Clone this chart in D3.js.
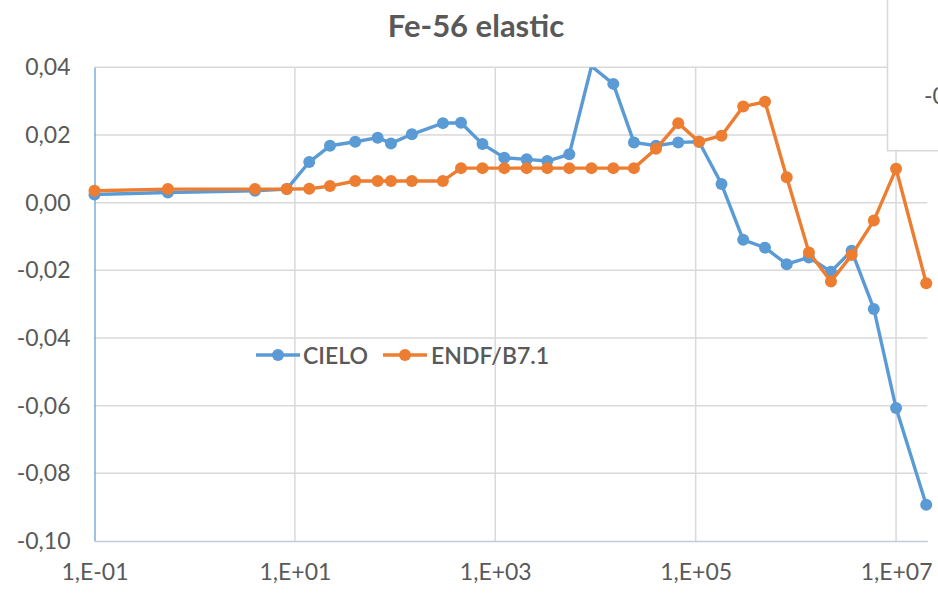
<!DOCTYPE html>
<html>
<head>
<meta charset="utf-8">
<script src="https://cdn.jsdelivr.net/npm/d3@7"></script>
<style>
  html, body { margin: 0; padding: 0; background: #fff; }
  svg { display: block; }
  text { font-family: Lato, "Open Sans", "Liberation Sans", sans-serif; fill: #595959; }
</style>
</head>
<body>
<svg id="chart" width="938" height="594"></svg>
<script>
// Incident energy (eV) for each evaluated point
const energies = [0.1, 0.54, 4, 8.3, 13.9, 22.4, 40, 67, 91, 147, 300, 455, 745,
  1230, 2057, 3302, 5480, 9120, 15060, 24200, 40200, 67000, 108000, 181000,
  298000, 492000, 810000, 1.35e6, 2.24e6, 3.6e6, 6.0e6, 1.0e7, 2.0e7];

const cieloValues = [0.0024, 0.0030, 0.0035, 0.0040, 0.0120, 0.0168, 0.0180, 0.0192,
  0.0175, 0.0202, 0.0235, 0.0236, 0.0173, 0.0133, 0.0128, 0.0123, 0.0143, 0.0403,
  0.0351, 0.0178, 0.0168, 0.0178, 0.0180, 0.0055, -0.0110, -0.0133, -0.0182,
  -0.0162, -0.0204, -0.0142, -0.0314, -0.0607, -0.0893];

const endfValues = [0.0035, 0.0040, 0.0040, 0.0040, 0.0041, 0.0049, 0.0064, 0.0064,
  0.0064, 0.0064, 0.0064, 0.0102, 0.0102, 0.0102, 0.0102, 0.0102, 0.0102, 0.0102,
  0.0102, 0.0102, 0.0159, 0.0235, 0.0180, 0.0198, 0.0284, 0.0298, 0.0075,
  -0.0147, -0.0233, -0.0155, -0.0053, 0.0100, -0.0238];

const seriesNames = ["CIELO", "ENDF/B7.1"];
const seriesColors = ["#5b9bd5", "#ed7d31"];

const xTicks = [0.1, 10, 1000, 1e5, 1e7];
const xTickLabels = ["1,E-01", "1,E+01", "1,E+03", "1,E+05", "1,E+07"];
const yTicks = [0.04, 0.02, 0, -0.02, -0.04, -0.06, -0.08, -0.10];
const yTickLabels = ["0,04", "0,02", "0,00", "-0,02", "-0,04", "-0,06", "-0,08", "-0,10"];

const titleText = "Fe-56 elastic";

const svg = d3.select("#chart");

const plot = { left: 94.5, right: 927.3, top: 67.3, bottom: 541 };
const x = d3.scaleLog().domain([0.1, 2.05e7]).range([plot.left, plot.right]);
const y = d3.scaleLinear().domain([-0.10, 0.04]).range([plot.bottom, plot.top]);

const markerR = 6;
const strokeW = 3.4;

// Gridlines
const grid = svg.append("g");
grid.selectAll("line.h").data(yTicks.filter(v => v > -0.1)).join("line")
  .attr("class", "h")
  .attr("x1", plot.left).attr("x2", plot.right)
  .attr("y1", d => y(d)).attr("y2", d => y(d))
  .attr("stroke", "#d9d9d9").attr("stroke-width", 1.5);
grid.selectAll("line.v").data(xTicks.slice(1)).join("line")
  .attr("class", "v")
  .attr("x1", d => x(d)).attr("x2", d => x(d))
  .attr("y1", plot.top).attr("y2", plot.bottom)
  .attr("stroke", "#d9d9d9").attr("stroke-width", 1.5);

// Axes
const yAxis = d3.axisLeft(y).tickValues(yTicks)
  .tickFormat((d, i) => yTickLabels[i]).tickSize(0).tickPadding(24);
const yg = svg.append("g").attr("transform", `translate(${plot.left},0)`).call(yAxis);
yg.select(".domain").attr("stroke", "#5b9bd5").attr("stroke-width", 1.2);
yg.selectAll("text").attr("font-size", 23).attr("fill", "#595959")
  .style("font-family", "Lato, 'Open Sans', sans-serif");

const xAxis = d3.axisBottom(x).tickValues(xTicks)
  .tickFormat((d, i) => xTickLabels[i]).tickSize(0).tickPadding(23);
const xg = svg.append("g").attr("transform", `translate(0,${plot.bottom})`).call(xAxis);
xg.select(".domain").attr("stroke", "#c3cbd6").attr("stroke-width", 1.5);
xg.selectAll("text").attr("font-size", 23).attr("fill", "#595959")
  .style("font-family", "Lato, 'Open Sans', sans-serif");

// Series
svg.append("clipPath").attr("id", "plot-clip")
  .append("rect").attr("x", plot.left).attr("y", plot.top)
  .attr("width", plot.right - plot.left).attr("height", plot.bottom - plot.top);

const series = [cieloValues, endfValues].map((vals, i) => ({
  name: seriesNames[i], color: seriesColors[i],
  points: energies.map((e, j) => ({ e, v: vals[j] }))
}));

const line = d3.line().x(d => x(d.e)).y(d => y(d.v));
const inRange = d => d.v <= 0.04 && d.v >= -0.10;

series.forEach(s => {
  const g = svg.append("g");
  g.append("path").datum(s.points)
    .attr("clip-path", "url(#plot-clip)")
    .attr("d", line).attr("fill", "none")
    .attr("stroke", s.color).attr("stroke-width", strokeW)
    .attr("stroke-linejoin", "round");
  g.selectAll("circle").data(s.points.filter(inRange)).join("circle")
    .attr("cx", d => x(d.e)).attr("cy", d => y(d.v))
    .attr("r", markerR).attr("fill", s.color);
});

// Legend
const legend = svg.append("g");
const legendItems = [
  { x0: 256, x1: 300, tx: 303 },
  { x0: 383, x1: 427, tx: 431 }
];
legendItems.forEach((it, i) => {
  const ly = 355;
  legend.append("line").attr("x1", it.x0).attr("x2", it.x1)
    .attr("y1", ly).attr("y2", ly)
    .attr("stroke", seriesColors[i]).attr("stroke-width", strokeW);
  legend.append("circle").attr("cx", (it.x0 + it.x1) / 2).attr("cy", ly)
    .attr("r", markerR).attr("fill", seriesColors[i]);
  legend.append("text").attr("x", it.tx).attr("y", ly + 8.5)
    .attr("font-size", 23).attr("font-weight", 600).text(seriesNames[i]);
});

// Title
svg.append("text").attr("x", 476).attr("y", 37)
  .attr("text-anchor", "middle").attr("font-size", 31)
  .attr("font-weight", 700).text(titleText);

// Overlapping text box at the top right
svg.append("rect").attr("x", 887.5).attr("y", -5)
  .attr("width", 70).attr("height", 155.7)
  .attr("fill", "#fff").attr("stroke", "#d9d9d9").attr("stroke-width", 1.6);
svg.append("text").attr("x", 924).attr("y", 104)
  .attr("font-size", 23).text("-0");
</script>
</body>
</html>
